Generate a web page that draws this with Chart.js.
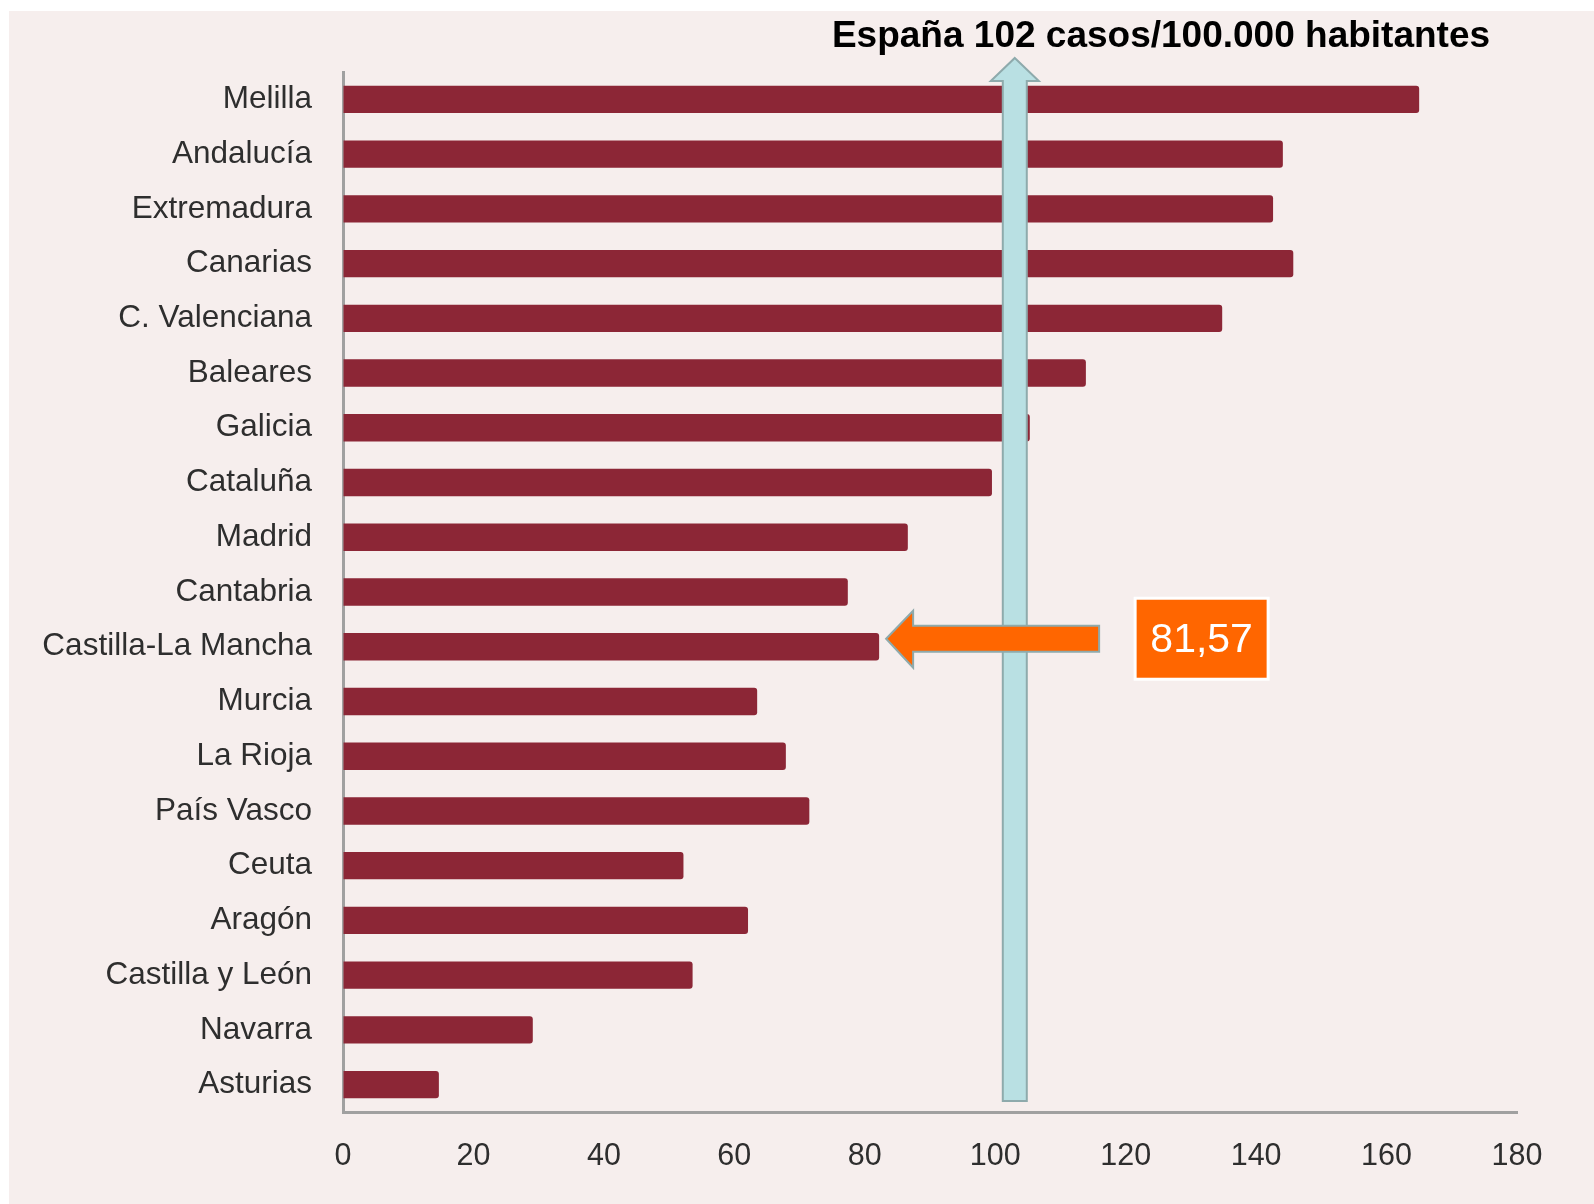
<!DOCTYPE html>
<html lang="es">
<head>
<meta charset="UTF-8">
<title>Casos por 100.000 habitantes por comunidad</title>
<script src="https://cdn.jsdelivr.net/npm/chart.js"></script>
<style>
  html, body { margin: 0; padding: 0; background: #fff; }
  #wrap { width: 1594px; height: 1204px; }
</style>
</head>
<body>
<div id="wrap"><canvas id="chart" width="1594" height="1204"></canvas></div>
<script>
// datos
const regions = ['Melilla', 'Andalucía', 'Extremadura', 'Canarias', 'C. Valenciana', 'Baleares',
  'Galicia', 'Cataluña', 'Madrid', 'Cantabria', 'Castilla-La Mancha', 'Murcia', 'La Rioja',
  'País Vasco', 'Ceuta', 'Aragón', 'Castilla y León', 'Navarra', 'Asturias'];
const rates = [165, 144.1, 142.6, 145.7, 134.8, 113.9, 105.3, 99.5, 86.6, 77.4,
  82.2, 63.5, 67.9, 71.5, 52.2, 62.1, 53.6, 29.1, 14.7];
const xMin = 0, xMax = 180, xStep = 20;

const spainArrowAt = 103;
const spainLabel = 'España 102 casos/100.000 habitantes';
const highlightRegion = 'Castilla-La Mancha';
const highlightLabel = '81,57';

const FONT = "'Liberation Sans', Arial, sans-serif";

const background = {
  id: 'background',
  beforeDraw(chart) {
    const c = chart.ctx;
    c.save();
    c.fillStyle = '#ffffff';
    c.fillRect(0, 0, chart.width, chart.height);
    c.fillStyle = '#f6eeed';
    c.fillRect(9, 11, chart.width - 9, chart.height - 11);
    c.restore();
  }
};

const annotations = {
  id: 'annotations',
  afterDraw(chart) {
    const c = chart.ctx;
    const x = chart.scales.x, y = chart.scales.y;
    const area = chart.chartArea;

    // flecha azul (media de España)
    const cx = x.getPixelForValue(spainArrowAt);
    const top = area.top - 14, headBase = area.top + 9, bottom = area.bottom - 11;
    c.save();
    c.beginPath();
    c.moveTo(cx, top);
    c.lineTo(cx + 24, headBase);
    c.lineTo(cx + 12, headBase);
    c.lineTo(cx + 12, bottom);
    c.lineTo(cx - 12, bottom);
    c.lineTo(cx - 12, headBase);
    c.lineTo(cx - 24, headBase);
    c.closePath();
    c.fillStyle = '#b9e0e3';
    c.fill();
    c.strokeStyle = '#8eaaac';
    c.lineWidth = 2;
    c.stroke();

    // flecha naranja hacia Castilla-La Mancha
    const i = regions.indexOf(highlightRegion);
    const ay = y.getPixelForValue(i) - 8;
    const tip = x.getPixelForValue(rates[i]) + 7;
    c.beginPath();
    c.moveTo(tip, ay);
    c.lineTo(tip + 27, ay - 28);
    c.lineTo(tip + 27, ay - 13);
    c.lineTo(tip + 213, ay - 13);
    c.lineTo(tip + 213, ay + 13);
    c.lineTo(tip + 27, ay + 13);
    c.lineTo(tip + 27, ay + 29);
    c.closePath();
    c.fillStyle = '#ff6600';
    c.fill();
    c.strokeStyle = '#8eaaac';
    c.lineWidth = 2;
    c.stroke();

    // caja con el valor
    const bx = tip + 249, bw = 133, bh = 81;
    c.fillStyle = '#ff6600';
    c.fillRect(bx, ay - bh / 2, bw, bh);
    c.strokeStyle = '#ffffff';
    c.lineWidth = 3;
    c.strokeRect(bx, ay - bh / 2, bw, bh);
    c.fillStyle = '#ffffff';
    c.font = '41px ' + FONT;
    c.textAlign = 'center';
    c.textBaseline = 'middle';
    c.fillText(highlightLabel, bx + bw / 2, ay + 2);

    // titulo
    c.fillStyle = '#000000';
    c.font = 'bold 37px ' + FONT;
    c.textAlign = 'center';
    c.textBaseline = 'middle';
    c.fillText(spainLabel, 1161, 37);
    c.restore();
  }
};

new Chart(document.getElementById('chart'), {
  type: 'bar',
  data: {
    labels: regions,
    datasets: [{
      data: rates,
      backgroundColor: '#8c2636',
      borderRadius: 3,
      barPercentage: 0.5,
      categoryPercentage: 1
    }]
  },
  options: {
    indexAxis: 'y',
    responsive: false,
    animation: false,
    layout: { padding: { top: 72, right: 77, bottom: 0, left: 0 } },
    plugins: {
      legend: { display: false },
      tooltip: { enabled: false }
    },
    scales: {
      x: {
        min: xMin,
        max: xMax,
        ticks: { stepSize: xStep, color: '#2e2e2e', font: { family: FONT, size: 30.5 }, padding: 26 },
        grid: { drawOnChartArea: false, drawTicks: false },
        border: { color: '#a0a0a0', width: 3 },
        afterFit(s) { s.height = 92; }
      },
      y: {
        ticks: { color: '#2e2e2e', font: { family: FONT, size: 31.5 }, padding: 31 },
        grid: { drawOnChartArea: false, drawTicks: false },
        border: { color: '#a0a0a0', width: 3 },
        afterFit(s) { s.width = 343; }
      }
    }
  },
  plugins: [background, annotations]
});
</script>
</body>
</html>
